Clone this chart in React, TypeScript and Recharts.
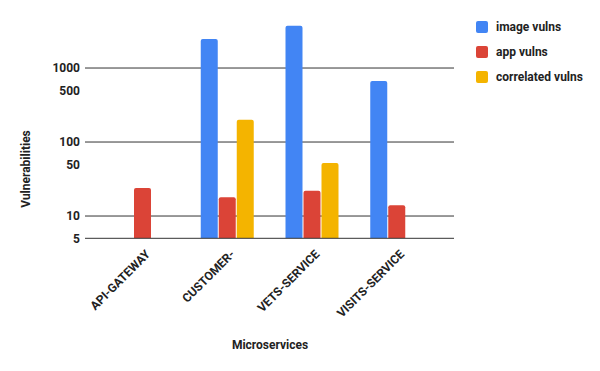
import React from 'react';
import { BarChart, Bar, XAxis, YAxis, CartesianGrid, Legend } from 'recharts';

const services = ['API-GATEWAY', 'CUSTOMER-', 'VETS-SERVICE', 'VISITS-SERVICE'];
const imageVulns: (number | null)[] = [null, 2460, 3730, 667];
const appVulns: (number | null)[] = [24, 18, 22, 14];
const correlatedVulns: (number | null)[] = [null, 200, 52, null];
const yTicks = [5, 10, 50, 100, 500, 1000];

const seriesNames = ['image vulns', 'app vulns', 'correlated vulns'];
const seriesColors = ['#4285F4', '#DB4437', '#F4B400'];

const data = services.map((s, i) => ({
  name: s,
  image: imageVulns[i],
  app: appVulns[i],
  correlated: correlatedVulns[i],
}));

const FONT = 'Roboto, Arial, sans-serif';
const TXT = '#222222';
const W = 'bold';

const XTick = (props: any) => {
  const { x, payload } = props;
  const ax = x + 8.5;
  const ay = 255;
  return (
    <text
      x={ax}
      y={ay}
      transform={`rotate(-45 ${ax} ${ay})`}
      textAnchor="end"
      fontFamily={FONT}
      fontSize={12}
      fontWeight={W}
      fill={TXT}
    >
      {payload.value}
    </text>
  );
};

const LegendContent = () => (
  <div style={{ fontFamily: FONT, fontSize: 12, fontWeight: W, color: TXT }}>
    {seriesNames.map((n, i) => (
      <div key={n} style={{ display: 'flex', alignItems: 'center', height: 25 }}>
        <div
          style={{
            width: 12,
            height: 12,
            borderRadius: 2,
            background: seriesColors[i],
            marginRight: 8,
          }}
        />
        <span>{n}</span>
      </div>
    ))}
  </div>
);

export default function App() {
  return (
    <div style={{ position: 'absolute', left: 0, top: 0, width: 600, height: 371, background: '#fff' }}>
      <BarChart
        width={600}
        height={371}
        data={data}
        margin={{ top: 20, right: 22, bottom: 22.7, left: 0 }}
        barSize={17}
        barGap={1}
      >
        <CartesianGrid vertical={false} horizontalValues={yTicks} stroke="#333333" strokeWidth={1} />
        <XAxis
          dataKey="name"
          height={110}
          padding={{ left: 15, right: 15 }}
          axisLine={{ stroke: '#333333', strokeWidth: 1 }}
          tickLine={false}
          tickSize={0}
          tickMargin={0}
          interval={0}
          tick={<XTick />}
          label={{
            content: () => (
              <text
                x={270}
                y={349}
                textAnchor="middle"
                fontFamily={FONT}
                fontSize={12}
                fontWeight={W}
                fill={TXT}
              >
                Microservices
              </text>
            ),
          }}
        />
        <YAxis
          scale="log"
          type="number"
          domain={[5, 4457]}
          allowDataOverflow
          ticks={yTicks}
          width={85}
          axisLine={false}
          tickLine={false}
          tickSize={0}
          tickMargin={5}
          tick={{ fontFamily: FONT, fontSize: 12, fontWeight: W, fill: TXT }}
          label={{
            content: () => (
              <text
                x={30}
                y={169}
                transform="rotate(-90 30 169)"
                textAnchor="middle"
                fontFamily={FONT}
                fontSize={12}
                fontWeight={W}
                fill={TXT}
              >
                Vulnerabilities
              </text>
            ),
          }}
        />
        <Legend
          layout="vertical"
          verticalAlign="top"
          align="right"
          content={<LegendContent />}
          wrapperStyle={{ left: 476, top: 14, width: 124 }}
        />
        <Bar dataKey="image" name={seriesNames[0]} fill={seriesColors[0]} radius={[2, 2, 0, 0]} isAnimationActive={false} />
        <Bar dataKey="app" name={seriesNames[1]} fill={seriesColors[1]} radius={[2, 2, 0, 0]} isAnimationActive={false} />
        <Bar dataKey="correlated" name={seriesNames[2]} fill={seriesColors[2]} radius={[2, 2, 0, 0]} isAnimationActive={false} />
      </BarChart>
    </div>
  );
}
